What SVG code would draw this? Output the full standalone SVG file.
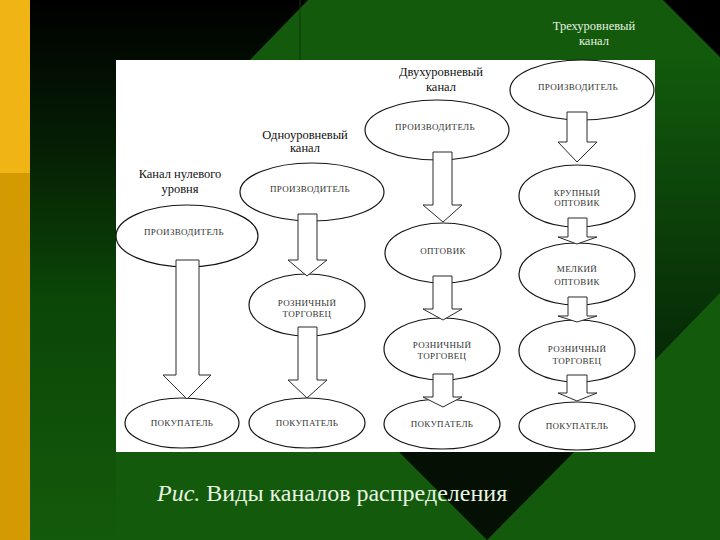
<svg xmlns="http://www.w3.org/2000/svg" width="720" height="540" viewBox="0 0 720 540">
<defs>
<linearGradient id="gl" x1="0" y1="0" x2="0" y2="1">
<stop offset="0" stop-color="#000000"/>
<stop offset="0.25" stop-color="#041c04"/>
<stop offset="0.55" stop-color="#0b4607"/>
<stop offset="1" stop-color="#145a0b"/>
</linearGradient>
<linearGradient id="gr" x1="0" y1="0" x2="0" y2="1">
<stop offset="0" stop-color="#125a0c"/>
<stop offset="1" stop-color="#062906"/>
</linearGradient>
<style>
.node ellipse{fill:#ffffff;stroke:#151515;stroke-width:1.2}
.node text{font-family:"Liberation Serif","Times New Roman",serif;font-size:9px;fill:#333333;text-anchor:middle;letter-spacing:0.3px}
.lab{font-family:"Liberation Serif","Times New Roman",serif;font-size:12.5px;fill:#111111;text-anchor:middle}
.labw{fill:#e4f2e0}
.arr polygon{fill:#ffffff;stroke:#2a2a2a;stroke-width:1}
</style>
</defs>
<g id="background">
<rect x="0" y="0" width="720" height="540" fill="#135a0c"/>
<rect x="0" y="0" width="30" height="173" fill="#f0b414"/>
<rect x="0" y="173" width="30" height="367" fill="#d39a02"/>
<polygon points="30,0 308,0 250,60 116,60 116,540 30,540" fill="url(#gl)"/>
<line x1="300" y1="0" x2="300" y2="60" stroke="#0a3a0a" stroke-width="1"/>
<polygon points="663,0 720,0 720,57" fill="#000000"/>
<polygon points="655,57 720,57 720,293 655,360" fill="url(#gr)"/>
<polygon points="399,452 574,452 487,540" fill="#031003"/>
<rect x="116" y="60" width="539" height="392" fill="#ffffff"/>
</g>
<g id="labels">
<g id="label-zero"><text class="lab" x="180" y="178">Канал нулевого</text><text class="lab" x="180" y="193">уровня</text></g>
<g id="label-one"><text class="lab" x="305" y="139">Одноуровневый</text><text class="lab" x="305" y="152">канал</text></g>
<g id="label-two"><text class="lab" x="441" y="76">Двухуровневый</text><text class="lab" x="441" y="91">канал</text></g>
<g id="label-three"><text class="lab labw" x="594" y="30">Трехуровневый</text><text class="lab labw" x="594" y="45">канал</text></g>
</g>
<g id="n1-producer" class="node"><ellipse cx="187" cy="236" rx="71" ry="31"/><text x="184" y="235">ПРОИЗВОДИТЕЛЬ</text></g>
<g id="n1-buyer" class="node"><ellipse cx="182" cy="423" rx="57" ry="25"/><text x="182" y="426">ПОКУПАТЕЛЬ</text></g>
<g id="n2-producer" class="node"><ellipse cx="312" cy="192" rx="72" ry="29"/><text x="310" y="192">ПРОИЗВОДИТЕЛЬ</text></g>
<g id="n2-retailer" class="node"><ellipse cx="307" cy="305" rx="58" ry="31"/><text x="307" y="306">РОЗНИЧНЫЙ</text><text x="307" y="317">ТОРГОВЕЦ</text></g>
<g id="n2-buyer" class="node"><ellipse cx="307" cy="423" rx="58" ry="25"/><text x="307" y="426">ПОКУПАТЕЛЬ</text></g>
<g id="n3-producer" class="node"><ellipse cx="437" cy="130" rx="72" ry="30"/><text x="435" y="130">ПРОИЗВОДИТЕЛЬ</text></g>
<g id="n3-wholesaler" class="node"><ellipse cx="443" cy="253" rx="58" ry="30"/><text x="443" y="254">ОПТОВИК</text></g>
<g id="n3-retailer" class="node"><ellipse cx="442" cy="349" rx="58" ry="31"/><text x="442" y="348">РОЗНИЧНЫЙ</text><text x="442" y="359">ТОРГОВЕЦ</text></g>
<g id="n3-buyer" class="node"><ellipse cx="442" cy="424" rx="58" ry="25"/><text x="442" y="427">ПОКУПАТЕЛЬ</text></g>
<g id="n4-producer" class="node"><ellipse cx="582" cy="90" rx="72" ry="30"/><text x="578" y="90">ПРОИЗВОДИТЕЛЬ</text></g>
<g id="n4-large-wholesaler" class="node"><ellipse cx="577" cy="196" rx="58" ry="31"/><text x="577" y="196">КРУПНЫЙ</text><text x="577" y="206">ОПТОВИК</text></g>
<g id="n4-small-wholesaler" class="node"><ellipse cx="577" cy="274" rx="58" ry="31"/><text x="577" y="272">МЕЛКИЙ</text><text x="577" y="285">ОПТОВИК</text></g>
<g id="n4-retailer" class="node"><ellipse cx="577" cy="351" rx="58" ry="31"/><text x="577" y="352">РОЗНИЧНЫЙ</text><text x="577" y="364">ТОРГОВЕЦ</text></g>
<g id="n4-buyer" class="node"><ellipse cx="577" cy="426" rx="58" ry="24"/><text x="577" y="429">ПОКУПАТЕЛЬ</text></g>
<g id="connectors" class="arr">
<polygon points="176,260 199,260 199,375 211,375 187,399 163,375 176,375"/>
<polygon points="298,214 317,214 317,260 327,260 307,276 288,260 298,260"/>
<polygon points="298,327 317,327 317,380 327,380 307,398 288,380 298,380"/>
<polygon points="433,152 452,152 452,205 462,205 443,222 423,205 433,205"/>
<polygon points="433,276 452,276 452,309 462,309 443,320 423,309 433,309"/>
<polygon points="433,374 453,374 453,397 462,397 443,407 423,397 433,397"/>
<polygon points="567,112 587,112 587,142 597,142 577,162 558,142 567,142"/>
<polygon points="568,218 587,218 587,237 597,237 577,244 558,237 568,237"/>
<polygon points="568,297 587,297 587,316 597,316 577,322 558,316 568,316"/>
<polygon points="567,375 587,375 587,393 597,393 577,401 558,393 567,393"/>
</g>
<text x="157" y="501" font-family="'Liberation Serif','Times New Roman',serif" font-size="24" fill="#e8f4e2"><tspan font-style="italic">Рис.</tspan> Виды каналов распределения</text>
</svg>
